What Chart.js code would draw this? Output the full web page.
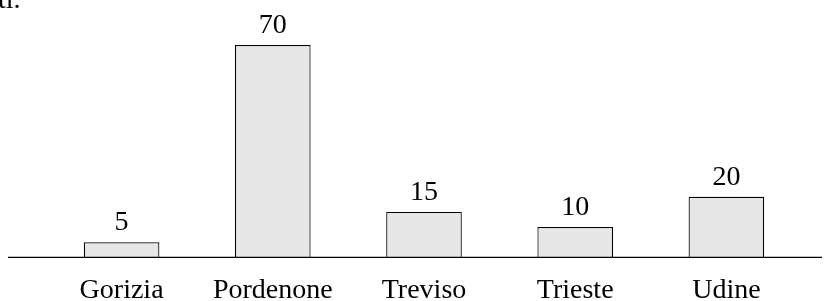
<!DOCTYPE html>
<html>
<head>
<meta charset="utf-8">
<script src="https://cdn.jsdelivr.net/npm/chart.js@4/dist/chart.umd.min.js"></script>
<style>
  html, body { margin: 0; padding: 0; background: #fff; }
  #wrap { width: 828px; height: 301px; position: relative; }
</style>
</head>
<body>
<div id="wrap"><canvas id="barChart"></canvas></div>
<script>
const cities = ["Gorizia", "Pordenone", "Treviso", "Trieste", "Udine"];
const counts = [5, 70, 15, 10, 20];
const titleFragment = "ti.";

const serif = "'Liberation Serif', 'DejaVu Serif', serif";

// value labels above bars + the long baseline + cropped title text
const extras = {
    id: "extras",
    afterDatasetsDraw(chart) {
        const c = chart.ctx;
        const meta = chart.getDatasetMeta(0);
        c.save();
        c.fillStyle = "#000";
        c.font = "28px " + serif;
        c.textAlign = "center";
        c.textBaseline = "alphabetic";
        meta.data.forEach((bar, i) => {
            c.fillText(String(counts[i]), bar.x, bar.y - 12);
        });

        const y0 = chart.scales.y.getPixelForValue(0);
        c.strokeStyle = "#000";
        c.lineWidth = 1.3;
        c.beginPath();
        c.moveTo(8, y0);
        c.lineTo(822, y0);
        c.stroke();

        c.textAlign = "left";
        c.fillText(titleFragment, -2, 8);
        c.restore();
    }
};

new Chart(document.getElementById("barChart"), {
    type: "bar",
    data: {
        labels: cities,
        datasets: [{
            data: counts,
            backgroundColor: "#e6e6e6",
            borderColor: "#000",
            borderWidth: 1.2,
            categoryPercentage: 1,
            barPercentage: 0.5
        }]
    },
    options: {
        responsive: true,
        maintainAspectRatio: false,
        animation: false,
        layout: { padding: { left: 46, right: 26, top: 45, bottom: -14 } },
        plugins: {
            legend: { display: false },
            tooltip: { enabled: false }
        },
        scales: {
            x: {
                grid: { display: false },
                border: { display: false },
                ticks: {
                    color: "#000",
                    font: { family: serif, size: 28 },
                    padding: 8,
                    maxRotation: 0
                }
            },
            y: {
                display: false,
                min: 0,
                max: 70
            }
        }
    },
    plugins: [extras]
});
</script>
</body>
</html>
